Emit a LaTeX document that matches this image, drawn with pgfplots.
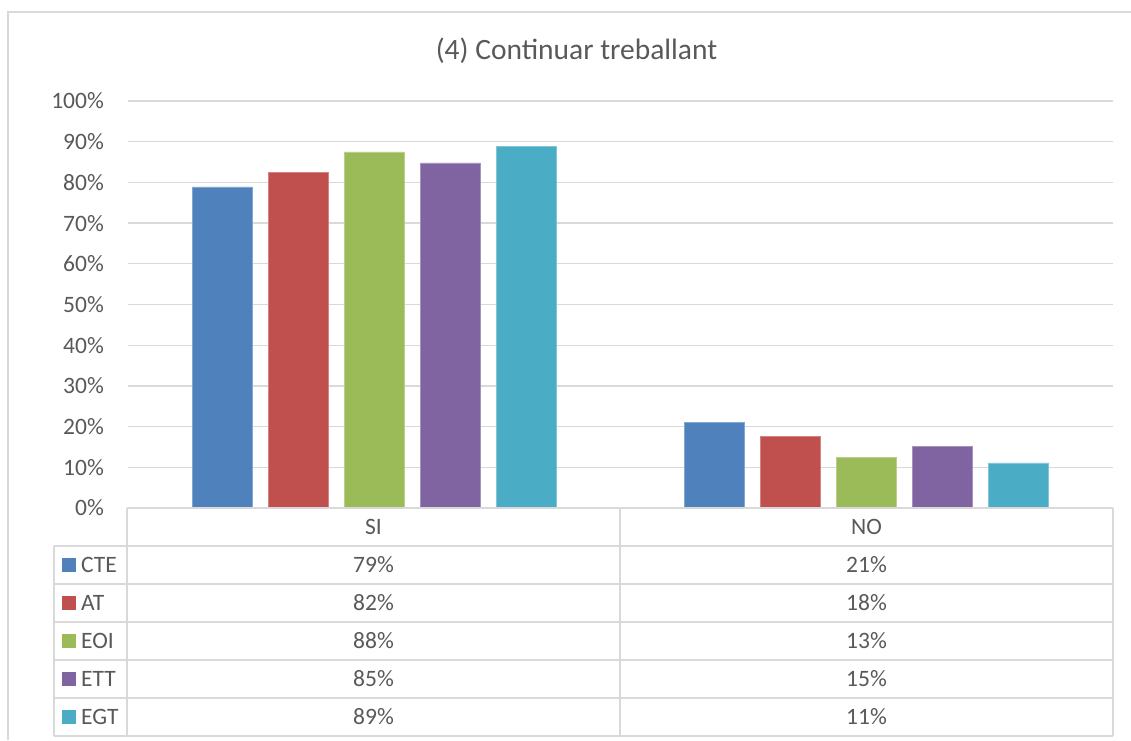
\documentclass[border=0pt]{standalone}
\usepackage{pgfplots}
\pgfplotsset{compat=1.18}
\usepackage{fontspec}
\setmainfont{Carlito}
\definecolor{cCTE}{HTML}{4F81BD}
\definecolor{cAT}{HTML}{C0504D}
\definecolor{cEOI}{HTML}{9BBB59}
\definecolor{cETT}{HTML}{8064A2}
\definecolor{cEGT}{HTML}{4BACC6}
\definecolor{gridc}{HTML}{D9D9D9}
\definecolor{txt}{HTML}{595959}
\newcommand{\tf}{\fontsize{23.5}{28}\selectfont}
\begin{document}
\begin{tikzpicture}[x=1pt,y=1pt]
\useasboundingbox (0,0) rectangle (1131,740);
\draw[gridc, line width=1.3pt] (8,0) -- (8,728) -- (1131,728);
\node[font=\fontsize{29.5}{34}\selectfont, text=txt] at (576.5,689) {(4) Continuar treballant};
\begin{axis}[
  at={(128pt,232pt)}, anchor=south west,
  scale only axis, width=985pt, height=407pt,
  xmin=-0.5, xmax=1.5, ymin=0, ymax=100,
  ybar=16pt, bar width=60pt,
  xtick=\empty,
  ytick={0,10,20,30,40,50,60,70,80,90,100},
  yticklabels={0\%,10\%,20\%,30\%,40\%,50\%,60\%,70\%,80\%,90\%,100\%},
  ymajorgrids, grid style={gridc, line width=1.3pt},
  axis line style={draw=none},
  major tick length=0pt,
  yticklabel style={font=\tf, text=txt, inner sep=0pt, xshift=-24pt},
  clip=false,
]
\addplot[fill=cCTE, draw=cCTE!70!white, line width=0.6pt] coordinates {(0,78.9) (1,21.1)};
\addplot[fill=cAT, draw=cAT!70!white, line width=0.6pt] coordinates {(0,82.4) (1,17.6)};
\addplot[fill=cEOI, draw=cEOI!70!white, line width=0.6pt] coordinates {(0,87.5) (1,12.5)};
\addplot[fill=cETT, draw=cETT!70!white, line width=0.6pt] coordinates {(0,84.8) (1,15.2)};
\addplot[fill=cEGT, draw=cEGT!70!white, line width=0.6pt] coordinates {(0,88.9) (1,11.1)};
\end{axis}
% data table
\begin{scope}[gridc, line width=1.3pt]
\draw (127,232) -- (1113,232);
\foreach \y in {194,156,118,80,42,4} \draw (54,\y) -- (1113,\y);
\draw (127,232) -- (127,4);
\draw (620,232) -- (620,4);
\draw (1113,232) -- (1113,4);
\draw (54,194) -- (54,4);
\end{scope}
\begin{scope}[every node/.style={font=\tf, text=txt}]
\node at (373.5,213) {SI};
\node at (866.5,213) {NO};
\foreach \n/\c/\y/\a/\b in {CTE/cCTE/175/79/21, AT/cAT/137/82/18, EOI/cEOI/99/88/13, ETT/cETT/61/85/15, EGT/cEGT/23/89/11} {
  \fill[\c] (62,\y-7) rectangle (76,\y+7);
  \node[anchor=west, inner sep=0pt] at (81,\y) {\n};
  \node at (373.5,\y) {\a\%};
  \node at (866.5,\y) {\b\%};
}
\end{scope}
\end{tikzpicture}
\end{document}
